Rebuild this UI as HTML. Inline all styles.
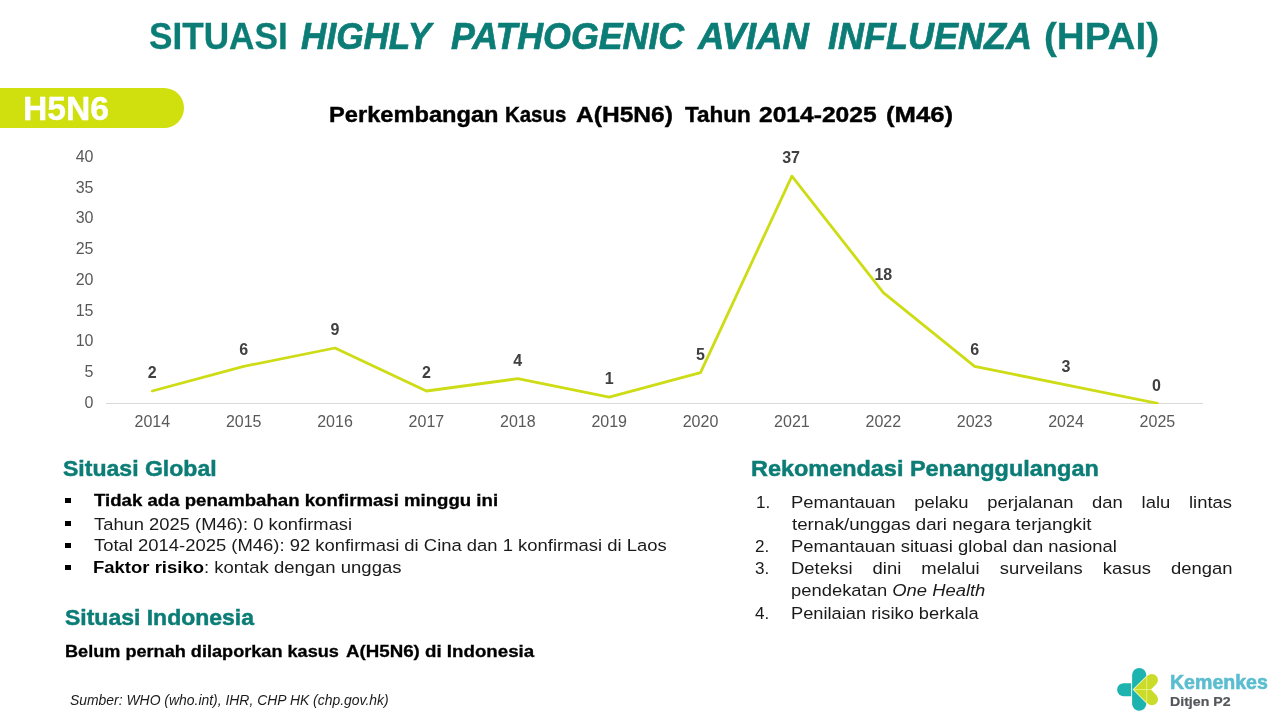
<!DOCTYPE html>
<html lang="id">
<head>
<meta charset="utf-8">
<title>Situasi Highly Pathogenic Avian Influenza (HPAI) - H5N6</title>
<style>
html,body{margin:0;padding:0;background:#fff;}
body{width:1280px;height:720px;position:relative;overflow:hidden;font-family:"Liberation Sans",sans-serif;color:#000;}
.t{position:absolute;white-space:nowrap;line-height:1;transform-origin:0 0;margin:0;padding:0;}
#badge{position:absolute;left:0;top:88px;width:184px;height:40px;background:#d0df0e;border-radius:0 20px 20px 0;}
.bul{position:absolute;width:5.5px;height:5.5px;background:#000;left:65px;}
b{color:#000;}
svg{position:absolute;left:0;top:0;}
</style>
</head>
<body>
<div id="badge"></div>
<svg width="1280" height="720" viewBox="0 0 1280 720" font-family="Liberation Sans, sans-serif">
  <line x1="106" y1="403.5" x2="1203" y2="403.5" stroke="#d9d9d9" stroke-width="1"/>
  <g font-size="16" fill="#595959" text-anchor="end">
    <text x="93.5" y="161.8">40</text>
    <text x="93.5" y="192.6">35</text>
    <text x="93.5" y="223.3">30</text>
    <text x="93.5" y="254.1">25</text>
    <text x="93.5" y="284.8">20</text>
    <text x="93.5" y="315.6">15</text>
    <text x="93.5" y="346.3">10</text>
    <text x="93.5" y="377.1">5</text>
    <text x="93.5" y="407.8">0</text>
  </g>
  <g font-size="16" fill="#595959" text-anchor="middle">
    <text x="152.3" y="427">2014</text>
    <text x="243.7" y="427">2015</text>
    <text x="335.0" y="427">2016</text>
    <text x="426.4" y="427">2017</text>
    <text x="517.8" y="427">2018</text>
    <text x="609.2" y="427">2019</text>
    <text x="700.5" y="427">2020</text>
    <text x="791.9" y="427">2021</text>
    <text x="883.3" y="427">2022</text>
    <text x="974.6" y="427">2023</text>
    <text x="1066.0" y="427">2024</text>
    <text x="1157.4" y="427">2025</text>
  </g>
  <clipPath id="cp"><rect x="100" y="150" width="1110" height="254"/></clipPath>
  <polyline clip-path="url(#cp)" fill="none" stroke="#cddc14" stroke-width="2.8" stroke-linejoin="round" stroke-linecap="round"
    points="152.3,391.0 243.7,366.4 335.0,348.0 426.4,391.0 517.8,378.7 609.2,397.2 700.5,372.6 791.9,176.2 883.3,292.6 974.6,366.4 1066.0,384.9 1157.4,403.3"/>
  <g font-size="16" font-weight="bold" fill="#404040" text-anchor="middle">
    <text x="152.3" y="378">2</text>
    <text x="243.7" y="354.6">6</text>
    <text x="335.0" y="335">9</text>
    <text x="426.4" y="378">2</text>
    <text x="517.8" y="365.7">4</text>
    <text x="609.2" y="384.2">1</text>
    <text x="700.5" y="359.6">5</text>
    <text x="791.1" y="163.0">37</text>
    <text x="883.3" y="279.6">18</text>
    <text x="974.6" y="354.6">6</text>
    <text x="1066.0" y="371.9">3</text>
    <text x="1156.4" y="390.8">0</text>
  </g>
</svg>
<span class="bul" style="top:497.5px"></span>
<span class="bul" style="top:520.6px"></span>
<span class="bul" style="top:542.5px"></span>
<span class="bul" style="top:564.5px"></span>
<div class="grp" id="title">
<div id="t1" class="t" style="left:149.00px;top:18.56px;font-size:36.20px;font-weight:bold;color:#0c7d76;-webkit-text-stroke:0.3px;transform:scaleX(0.9714)">SITUASI</div>
<div id="t2a" class="t" style="left:300.80px;top:18.56px;font-size:36.20px;font-weight:bold;color:#0c7d76;-webkit-text-stroke:0.7px;transform:scaleX(0.9712)"><i>HIGHLY</i></div>
<div id="t2b" class="t" style="left:451.00px;top:18.56px;font-size:36.20px;font-weight:bold;color:#0c7d76;-webkit-text-stroke:0.7px;transform:scaleX(0.9884)"><i>PATHOGENIC</i></div>
<div id="t2c" class="t" style="left:698.00px;top:18.56px;font-size:36.20px;font-weight:bold;color:#0c7d76;-webkit-text-stroke:0.7px;transform:scaleX(1.0089)"><i>AVIAN</i></div>
<div id="t2d" class="t" style="left:828.00px;top:18.56px;font-size:36.20px;font-weight:bold;color:#0c7d76;-webkit-text-stroke:0.7px;transform:scaleX(0.9951)"><i>INFLUENZA</i></div>
<div id="t3" class="t" style="left:1044.00px;top:18.56px;font-size:36.20px;font-weight:bold;color:#0c7d76;-webkit-text-stroke:0.3px;transform:scaleX(1.0669)">(HPAI)</div>
</div>
<div id="bt" class="t" style="left:23.00px;top:91.70px;font-size:33.20px;font-weight:bold;color:#fff;-webkit-text-stroke:0.4px;transform:scaleX(1.0147)">H5N6</div>
<div class="grp" id="chart-title">
<div id="c1" class="t" style="left:328.60px;top:103.95px;font-size:21.80px;font-weight:bold;color:#000;-webkit-text-stroke:0.4px;transform:scaleX(1.0851)">Perkembangan</div>
<div id="c2" class="t" style="left:505.00px;top:103.95px;font-size:21.80px;font-weight:bold;color:#000;-webkit-text-stroke:0.4px;transform:scaleX(0.9375)">Kasus</div>
<div id="c3" class="t" style="left:576.00px;top:103.95px;font-size:21.80px;font-weight:bold;color:#000;-webkit-text-stroke:0.4px;transform:scaleX(1.1266)">A(H5N6)</div>
<div id="c4" class="t" style="left:685.00px;top:103.95px;font-size:21.80px;font-weight:bold;color:#000;-webkit-text-stroke:0.4px;transform:scaleX(1.0317)">Tahun</div>
<div id="c5" class="t" style="left:759.00px;top:103.95px;font-size:21.80px;font-weight:bold;color:#000;-webkit-text-stroke:0.4px;transform:scaleX(1.1288)">2014-2025</div>
<div id="c6" class="t" style="left:886.00px;top:103.95px;font-size:21.80px;font-weight:bold;color:#000;-webkit-text-stroke:0.4px;transform:scaleX(1.1789)">(M46)</div>
</div>
<div id="hg" class="t" style="left:63.00px;top:456.87px;font-size:22.90px;font-weight:bold;color:#0c7d76;-webkit-text-stroke:0.5px;transform:scaleX(1.0066)">Situasi Global</div>
<div id="hr" class="t" style="left:751.00px;top:456.52px;font-size:22.90px;font-weight:bold;color:#0c7d76;-webkit-text-stroke:0.5px;transform:scaleX(1.0240)">Rekomendasi Penanggulangan</div>
<div id="hi" class="t" style="left:65.00px;top:605.52px;font-size:22.90px;font-weight:bold;color:#0c7d76;-webkit-text-stroke:0.5px;transform:scaleX(1.0040)">Situasi Indonesia</div>
<div class="grp" id="indonesia">
<div id="be" class="t" style="left:64.80px;top:643.11px;font-size:17.00px;font-weight:bold;color:#000;-webkit-text-stroke:0.3px;transform:scaleX(1.0658)">Belum pernah dilaporkan kasus</div>
<div id="be2" class="t" style="left:346.00px;top:643.11px;font-size:17.00px;font-weight:bold;color:#000;-webkit-text-stroke:0.3px;transform:scaleX(1.1009)">A(H5N6) di Indonesia</div>
</div>
<div id="sr" class="t" style="left:70.20px;top:692.70px;font-size:14.30px;color:#1a1a1a;transform:scaleX(0.9735)"><i>Sumber: WHO (who.int), IHR, CHP HK (chp.gov.hk)</i></div>
<div id="l1" class="t" style="left:94.00px;top:492.02px;font-size:17.10px;color:#000;-webkit-text-stroke:0.3px;transform:scaleX(1.0889)"><b>Tidak ada penambahan konfirmasi minggu ini</b></div>
<div id="l2" class="t" style="left:94.00px;top:515.72px;font-size:17.10px;color:#1a1a1a;transform:scaleX(1.0737)">Tahun 2025 (M46): 0 konfirmasi</div>
<div id="l3" class="t" style="left:94.00px;top:537.02px;font-size:17.10px;color:#1a1a1a;transform:scaleX(1.0781)">Total 2014-2025 (M46): 92 konfirmasi di Cina dan 1 konfirmasi di Laos</div>
<div id="l4" class="t" style="left:93.00px;top:559.02px;font-size:17.10px;color:#1a1a1a;transform:scaleX(1.0820)"><b>Faktor risiko</b>: kontak dengan unggas</div>
<div id="n1" class="t" style="left:756.00px;top:493.72px;font-size:17.10px;color:#1a1a1a;transform:scaleX(1.0000)">1.</div>
<div id="n2" class="t" style="left:755.00px;top:537.62px;font-size:17.10px;color:#1a1a1a;transform:scaleX(1.0000)">2.</div>
<div id="n3" class="t" style="left:755.00px;top:559.82px;font-size:17.10px;color:#1a1a1a;transform:scaleX(1.0000)">3.</div>
<div id="n4" class="t" style="left:755.00px;top:604.52px;font-size:17.10px;color:#1a1a1a;transform:scaleX(1.0000)">4.</div>
<div id="r2" class="t" style="left:791.80px;top:516.12px;font-size:17.10px;color:#1a1a1a;transform:scaleX(1.0945)">ternak/unggas dari negara terjangkit</div>
<div id="r3" class="t" style="left:790.80px;top:537.62px;font-size:17.10px;color:#1a1a1a;transform:scaleX(1.0786)">Pemantauan situasi global dan nasional</div>
<div id="r5" class="t" style="left:790.80px;top:582.02px;font-size:17.10px;color:#1a1a1a;transform:scaleX(1.0760)">pendekatan <i>One Health</i></div>
<div id="r6" class="t" style="left:790.80px;top:604.52px;font-size:17.10px;color:#1a1a1a;transform:scaleX(1.0681)">Penilaian risiko berkala</div>
<div class="grp" id="brand">
<div id="k1" class="t" style="left:1169.80px;top:671.68px;font-size:20.70px;font-weight:bold;color:#5abdd0;-webkit-text-stroke:0.6px;transform:scaleX(0.9451)">Kemenkes</div>
<div id="k2" class="t" style="left:1169.80px;top:696.10px;font-size:12.40px;font-weight:bold;color:#55565a;-webkit-text-stroke:0.2px;transform:scaleX(1.1425)">Ditjen P2</div>
</div>
<div id="j1" class="t" style="left:790.80px;top:493.72px;width:408.86px;font-size:17.10px;color:#1a1a1a;white-space:normal;text-align:justify;text-align-last:justify;transform:scaleX(1.0786)">Pemantauan pelaku perjalanan dan lalu lintas</div>
<div id="j4" class="t" style="left:790.80px;top:559.82px;width:409.42px;font-size:17.10px;color:#1a1a1a;white-space:normal;text-align:justify;text-align-last:justify;transform:scaleX(1.0786)">Deteksi dini melalui surveilans kasus dengan</div>
<svg width="1280" height="720" viewBox="0 0 1280 720" style="pointer-events:none">
  <!-- left lobe of the cross -->
  <path d="M1131.2,683.2 H1123.6 a6.5,6.5 0 0 0 0,13 H1131.2 Z" fill="#1db4af"/>
  <!-- vertical bar of the cross -->
  <rect x="1132.1" y="667.9" width="14.2" height="42.9" rx="7.1" ry="7.1" fill="#1db4af"/>
  <!-- notch -->
  <path d="M1132.6,689.6 L1147,675.2 V704 Z" fill="#f4fbd0"/>
  <!-- heart arrow -->
  <path d="M1133.75,689.6 L1147.6,675.7 A6.08,6.08 0 0 1 1156.2,684.3 L1150.9,689.6 L1156.2,694.9 A6.08,6.08 0 0 1 1147.6,703.5 Z" fill="#cbdb2a"/>
  <path d="M1134,689.6 H1151 M1146.7,676.4 V702.8" stroke="#eef58c" stroke-width="0.8" fill="none"/>
</svg>

</body>
</html>
